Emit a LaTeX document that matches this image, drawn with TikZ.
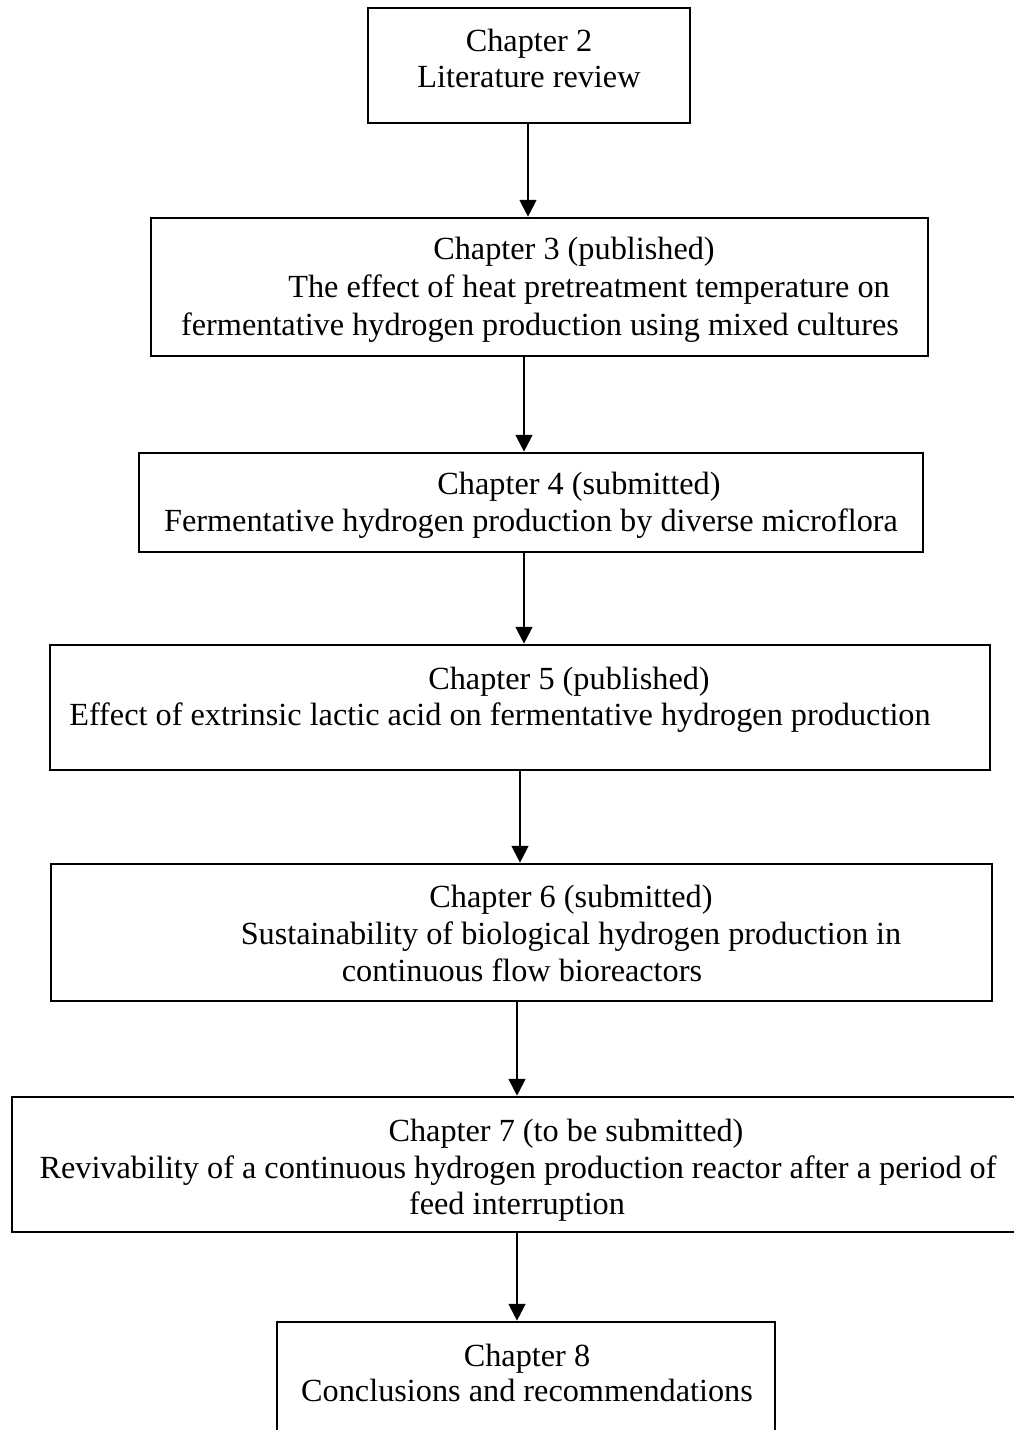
\documentclass[tikz,border=0pt]{standalone}
\usepackage{fontspec}
\setmainfont{Liberation Serif}
\usetikzlibrary{arrows.meta}
\begin{document}
\begin{tikzpicture}[x=0.375pt,y=-0.375pt,
  box/.style={draw=black,line width=1pt,rectangle,inner sep=0pt},
  txt/.style={anchor=base,inner sep=0pt,font=\fontsize{12.1}{14}\selectfont},
  arr/.style={draw=black,line width=0.8pt,-{Triangle[length=6.3pt,width=6.3pt]}}]
\useasboundingbox (0,0) rectangle (1014,1430);
\clip (0,0) rectangle (1014,1430);
\fill[white] (0,0) rectangle (1014,1430);
% boxes
\node[box,minimum width=322*0.375pt,minimum height=115*0.375pt] (c2) at (529,65.5) {};
\node[box,minimum width=777*0.375pt,minimum height=138*0.375pt] (c3) at (539.5,287) {};
\node[box,minimum width=784*0.375pt,minimum height=99*0.375pt] (c4) at (531,502.5) {};
\node[box,minimum width=940*0.375pt,minimum height=125*0.375pt] (c5) at (520,707.5) {};
\node[box,minimum width=941*0.375pt,minimum height=137*0.375pt] (c6) at (521.5,932.5) {};
\node[box,minimum width=1018*0.375pt,minimum height=135*0.375pt] (c7) at (521,1164.5) {};
\node[box,minimum width=498*0.375pt,minimum height=128*0.375pt] (c8) at (526,1386) {};
% texts
\node[txt] (t2a) at (529,51) {Chapter 2};
\node[txt] (t2b) at (529,87) {Literature review};
\node[txt] (t3a) at (574,259) {Chapter 3 (published)};
\node[txt] (t3b) at (589,297) {The effect of heat pretreatment temperature on};
\node[txt] (t3c) at (540,335) {fermentative hydrogen production using mixed cultures};
\node[txt] (t4a) at (579,494) {Chapter 4 (submitted)};
\node[txt] (t4b) at (531,531) {Fermentative hydrogen production by diverse microflora};
\node[txt] (t5a) at (569,689) {Chapter 5 (published)};
\node[txt] (t5b) at (500,725) {Effect of extrinsic lactic acid on fermentative hydrogen production};
\node[txt] (t6a) at (571,907) {Chapter 6 (submitted)};
\node[txt] (t6b) at (571,944) {Sustainability of biological hydrogen production in};
\node[txt] (t6c) at (522,981) {continuous flow bioreactors};
\node[txt] (t7a) at (566,1141) {Chapter 7 (to be submitted)};
\node[txt] (t7b) at (518,1178) {Revivability of a continuous hydrogen production reactor after a period of};
\node[txt] (t7c) at (517,1214) {feed interruption};
\node[txt] (t8a) at (527,1366) {Chapter 8};
\node[txt] (t8b) at (527,1401) {Conclusions and recommendations};
% arrows
\draw[arr] ([xshift=-0.375pt]c2.south) -- ([xshift=-4.3125pt]c3.north);
\draw[arr] ([xshift=-5.8125pt]c3.south) -- ([xshift=-2.625pt]c4.north);
\draw[arr] ([xshift=-2.625pt]c4.south) -- ([xshift=1.5pt]c5.north);
\draw[arr] (c5.south) -- ([xshift=-0.5625pt]c6.north);
\draw[arr] ([xshift=-1.6875pt]c6.south) -- ([xshift=-1.5pt]c7.north);
\draw[arr] ([xshift=-1.5pt]c7.south) -- ([xshift=-3.375pt]c8.north);
\end{tikzpicture}
\end{document}
